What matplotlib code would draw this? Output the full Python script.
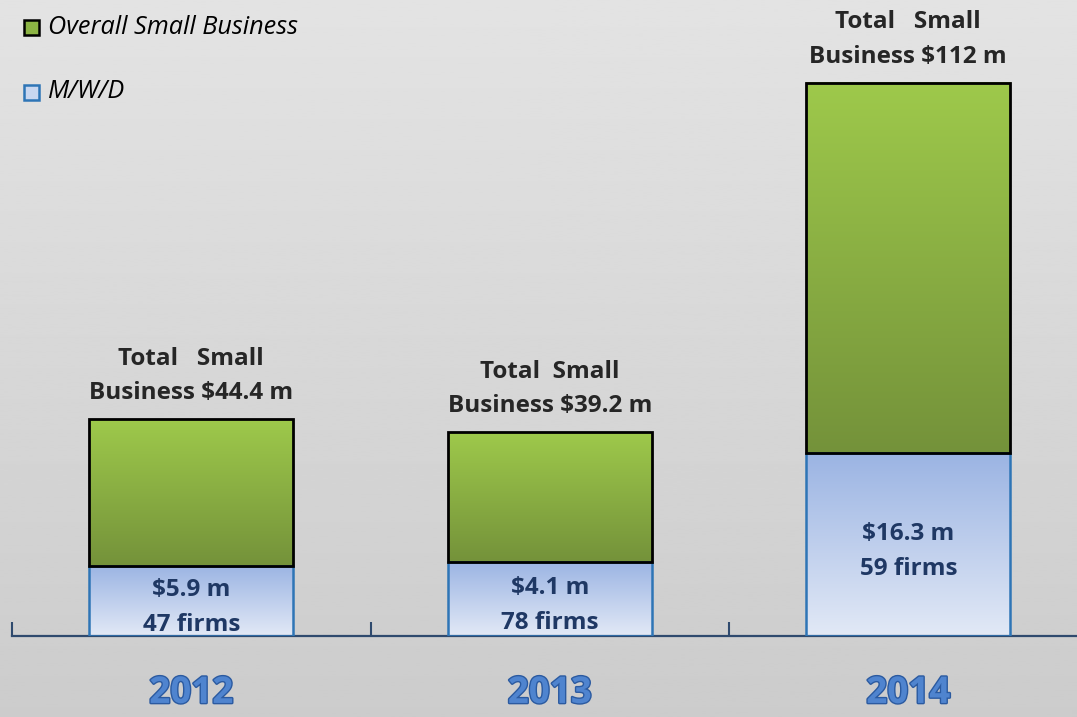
import numpy as np
import matplotlib
matplotlib.use("Agg")
import matplotlib.pyplot as plt
from matplotlib import patheffects as pe
from matplotlib.patches import Rectangle

years = ["2012", "2013", "2014"]
# segment heights as drawn in the picture (chart units, not $)
mwd_height = [14.2, 15.0, 37.0]
small_height = [29.7, 26.3, 75.0]
total_labels = ["Total   Small\nBusiness $44.4 m",
                "Total  Small\nBusiness $39.2 m",
                "Total   Small\nBusiness $112 m"]
mwd_labels = ["$5.9 m\n47 firms", "$4.1 m\n78 firms", "$16.3 m\n59 firms"]

FONT = "Open Sans"
W, H = 1077, 717

fig = plt.figure(figsize=(W / 100, H / 100), dpi=100)

# background gradient
bg = fig.add_axes([0, 0, 1, 1])
bg.imshow(np.linspace(0.89, 0.80, 256)[:, None], cmap="gray", vmin=0, vmax=1,
          aspect="auto", extent=[0, 1, 0, 1])
bg.axis("off")

ax = fig.add_axes([12 / W, (H - 636) / H, 1 - 12 / W, 636 / H])
ax.patch.set_alpha(0)
for s in ["top", "right", "left"]:
    ax.spines[s].set_visible(False)
ax.spines["bottom"].set_color("#2f4a6e")
ax.spines["bottom"].set_linewidth(1.6)
ax.set_xticks([-0.5, 0.5, 1.5])
ax.set_xticklabels([])
ax.tick_params(axis="x", direction="in", length=10, width=1.5, color="#2f4a6e")
ax.set_yticks([])

width = 0.57
green = matplotlib.colors.LinearSegmentedColormap.from_list("g", ["#74923a", "#9ec94b"])
blue = matplotlib.colors.LinearSegmentedColormap.from_list("b", ["#e2e9f6", "#9bb4e3"])
grad = np.linspace(0, 1, 256)[:, None]

x = np.arange(len(years))
for i in x:
    left = i - width / 2
    m = mwd_height[i]
    s = small_height[i]
    ax.imshow(grad, cmap=blue, aspect="auto", origin="lower",
              extent=[left, left + width, 0, m], zorder=2)
    ax.add_patch(Rectangle((left, 0), width, m, fill=False,
                           edgecolor="#2e75b6", lw=1.8, zorder=3))
    ax.imshow(grad, cmap=green, aspect="auto", origin="lower",
              extent=[left, left + width, m, m + s], zorder=2)
    ax.add_patch(Rectangle((left, m), width, s, fill=False,
                           edgecolor="black", lw=2, zorder=4))
    ax.annotate(total_labels[i], (i, m + s), xytext=(0, 10), textcoords="offset points",
                ha="center", va="bottom", fontsize=17.5, fontweight="bold",
                color="#262626", family=FONT, linespacing=1.58)
    ax.annotate(mwd_labels[i], (i, m / 2), xytext=(0, -5), textcoords="offset points",
                ha="center", va="center", fontsize=17.5, fontweight="bold",
                color="#1f3864", family=FONT, linespacing=1.6, zorder=5)
    ax.annotate(years[i], (i, 0), xytext=(0, -41), textcoords="offset points",
                ha="center", va="center", fontsize=26.5, fontweight="bold",
                color="#4f84cf", family=FONT, annotation_clip=False,
                path_effects=[pe.withStroke(linewidth=2, foreground="#2b5aa0")])
ax.set_xlim(-0.5, 2.4707)
ax.set_ylim(0, 128.7)

# legend
lg_items = [("Overall Small Business", "#8cb444", "black", 27),
            ("M/W/D", "#c9d7f0", "#2e75b6", 92)]
for label, fc, ec, ypx in lg_items:
    fig.patches.append(Rectangle((24 / W, 1 - (ypx + 8) / H), 15 / W, 15 / H,
                                 facecolor=fc, edgecolor=ec, lw=1.8,
                                 transform=fig.transFigure, figure=fig))
    fig.text(48 / W, 1 - ypx / H, label, fontsize=18.2, style="italic",
             family=FONT, color="black", va="center", ha="left")

fig.savefig("out.png", dpi=100)
